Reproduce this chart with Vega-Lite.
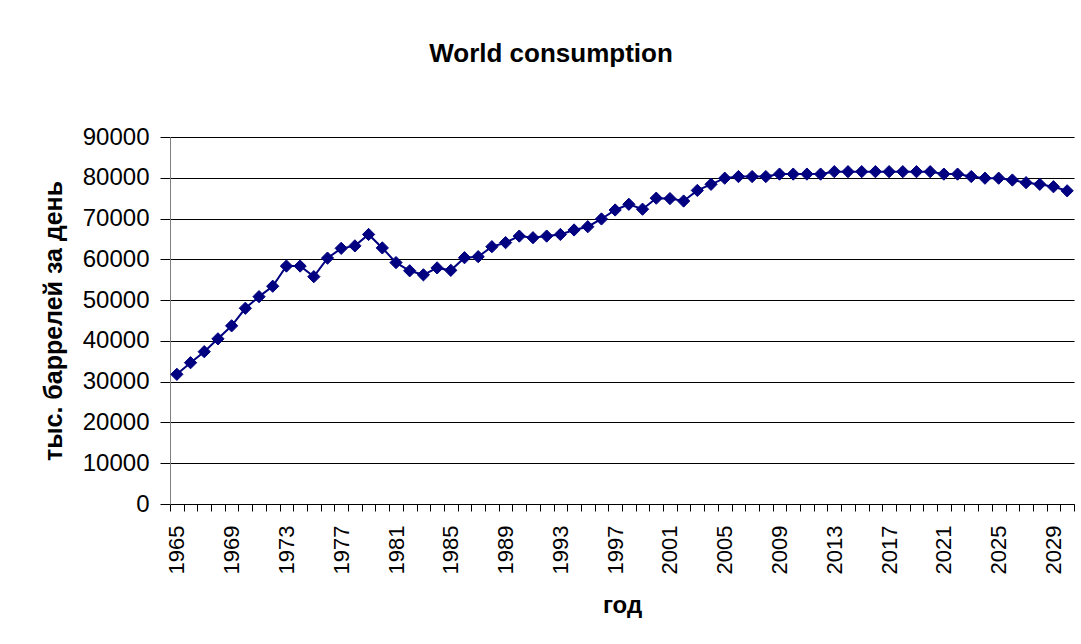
{
  "$schema": "https://vega.github.io/schema/vega-lite/v6.json",
  "width": 904,
  "height": 367,
  "autosize": "none",
  "padding": {"left": 170, "top": 137, "right": 7, "bottom": 140},
  "background": "white",
  "title": {
    "text": "World consumption",
    "font": "Liberation Sans",
    "fontSize": 26,
    "fontWeight": "bold",
    "color": "black",
    "anchor": "middle",
    "offset": 58,
    "dx": -71
  },
  "config": {
    "view": {"stroke": null},
    "font": "Liberation Sans"
  },
  "data": {
    "values": [
      {"year": 1965, "value": 31800}, {"year": 1966, "value": 34650}, {"year": 1967, "value": 37350},
      {"year": 1968, "value": 40500}, {"year": 1969, "value": 43700}, {"year": 1970, "value": 48000},
      {"year": 1971, "value": 50850}, {"year": 1972, "value": 53400}, {"year": 1973, "value": 58350},
      {"year": 1974, "value": 58350}, {"year": 1975, "value": 55750}, {"year": 1976, "value": 60300},
      {"year": 1977, "value": 62700}, {"year": 1978, "value": 63300}, {"year": 1979, "value": 66100},
      {"year": 1980, "value": 62800}, {"year": 1981, "value": 59200}, {"year": 1982, "value": 57200},
      {"year": 1983, "value": 56200}, {"year": 1984, "value": 57900}, {"year": 1985, "value": 57300},
      {"year": 1986, "value": 60400}, {"year": 1987, "value": 60650}, {"year": 1988, "value": 63100},
      {"year": 1989, "value": 64100}, {"year": 1990, "value": 65700}, {"year": 1991, "value": 65300},
      {"year": 1992, "value": 65700}, {"year": 1993, "value": 66100}, {"year": 1994, "value": 67200},
      {"year": 1995, "value": 68000}, {"year": 1996, "value": 69900}, {"year": 1997, "value": 72100},
      {"year": 1998, "value": 73500}, {"year": 1999, "value": 72300}, {"year": 2000, "value": 75000},
      {"year": 2001, "value": 74900}, {"year": 2002, "value": 74300}, {"year": 2003, "value": 76900},
      {"year": 2004, "value": 78400}, {"year": 2005, "value": 79900}, {"year": 2006, "value": 80300},
      {"year": 2007, "value": 80300}, {"year": 2008, "value": 80300}, {"year": 2009, "value": 80900},
      {"year": 2010, "value": 80900}, {"year": 2011, "value": 80900}, {"year": 2012, "value": 80900},
      {"year": 2013, "value": 81500}, {"year": 2014, "value": 81500}, {"year": 2015, "value": 81500},
      {"year": 2016, "value": 81500}, {"year": 2017, "value": 81500}, {"year": 2018, "value": 81500},
      {"year": 2019, "value": 81500}, {"year": 2020, "value": 81500}, {"year": 2021, "value": 80900},
      {"year": 2022, "value": 80900}, {"year": 2023, "value": 80300}, {"year": 2024, "value": 79900},
      {"year": 2025, "value": 79900}, {"year": 2026, "value": 79450}, {"year": 2027, "value": 78800},
      {"year": 2028, "value": 78400}, {"year": 2029, "value": 77800}, {"year": 2030, "value": 76800}
    ]
  },
  "encoding": {
    "x": {
      "field": "year",
      "type": "quantitative",
      "scale": {"domain": [1964.5, 2030.5], "nice": false, "zero": false},
      "axis": {
        "title": "год",
        "titleFont": "Liberation Sans",
        "titleFontSize": 24,
        "titleFontWeight": "bold",
        "titleColor": "black",
        "titlePadding": 20,
        "values": [1964.5, 1965.5, 1966.5, 1967.5, 1968.5, 1969.5, 1970.5, 1971.5, 1972.5, 1973.5, 1974.5, 1975.5, 1976.5, 1977.5, 1978.5, 1979.5, 1980.5, 1981.5, 1982.5, 1983.5, 1984.5, 1985.5, 1986.5, 1987.5, 1988.5, 1989.5, 1990.5, 1991.5, 1992.5, 1993.5, 1994.5, 1995.5, 1996.5, 1997.5, 1998.5, 1999.5, 2000.5, 2001.5, 2002.5, 2003.5, 2004.5, 2005.5, 2006.5, 2007.5, 2008.5, 2009.5, 2010.5, 2011.5, 2012.5, 2013.5, 2014.5, 2015.5, 2016.5, 2017.5, 2018.5, 2019.5, 2020.5, 2021.5, 2022.5, 2023.5, 2024.5, 2025.5, 2026.5, 2027.5, 2028.5, 2029.5, 2030.5],
        "labelExpr": "((datum.value + 0.5 - 1965) % 4 == 0 && datum.value < 2030) ? format(datum.value + 0.5, 'd') : ''",
        "labelOffset": 6.85,
        "labelAngle": 270,
        "labelFont": "Liberation Sans",
        "labelFontSize": 22,
        "labelColor": "black",
        "labelPadding": 14,
        "labelOverlap": false,
        "labelFlush": false,
        "tickSize": 7,
        "tickColor": "black",
        "tickWidth": 1,
        "domainColor": "black",
        "domainWidth": 1,
        "grid": false
      }
    },
    "y": {
      "field": "value",
      "type": "quantitative",
      "scale": {"domain": [0, 90000], "nice": false},
      "axis": {
        "title": "тыс. баррелей за день",
        "titleFont": "Liberation Sans",
        "titleFontSize": 25,
        "titleFontWeight": "bold",
        "titleColor": "black",
        "titlePadding": 16,
        "values": [0, 10000, 20000, 30000, 40000, 50000, 60000, 70000, 80000, 90000],
        "format": "d",
        "labelFont": "Liberation Sans",
        "labelFontSize": 24,
        "labelColor": "black",
        "labelPadding": 11,
        "tickSize": 10,
        "tickColor": "black",
        "domainColor": "#808080",
        "domainWidth": 1,
        "grid": true,
        "gridColor": "black",
        "gridWidth": 1,
        "gridOpacity": 1
      }
    }
  },
  "layer": [
    {
      "mark": {"type": "line", "color": "#000080", "strokeWidth": 2}
    },
    {
      "mark": {"type": "point", "shape": "diamond", "filled": true, "size": 150, "color": "#000080", "stroke": "#000080", "strokeWidth": 1, "opacity": 1}
    }
  ]
}
